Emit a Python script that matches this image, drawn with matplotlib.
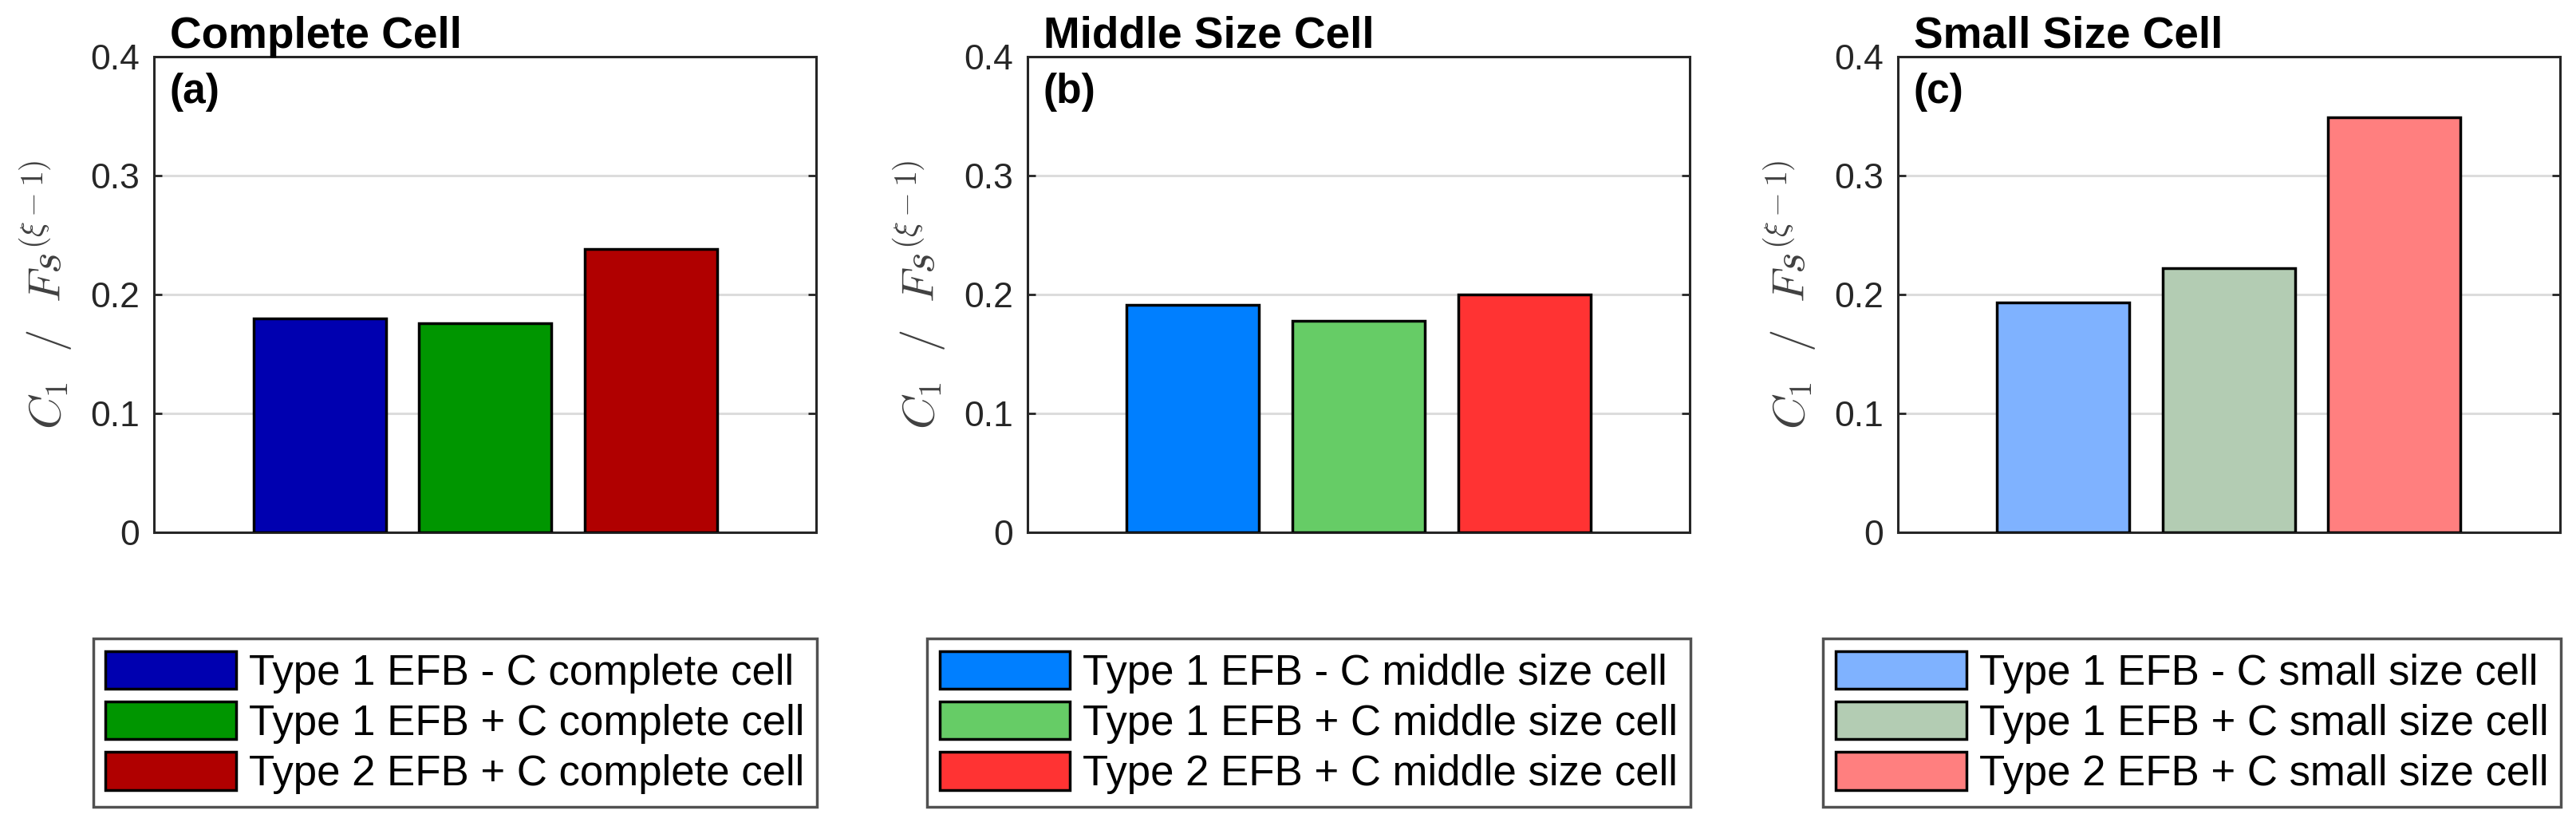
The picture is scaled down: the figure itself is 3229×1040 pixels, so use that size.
import matplotlib
matplotlib.use("Agg")
import matplotlib.pyplot as plt
from matplotlib.patches import Patch

plt.rcParams['font.family'] = ['Liberation Sans', 'DejaVu Sans']
plt.rcParams['mathtext.fontset'] = 'cm'

# ---- data ----
panel_titles = ["Complete Cell", "Middle Size Cell", "Small Size Cell"]
panel_tags = ["(a)", "(b)", "(c)"]
values_complete = [0.180, 0.176, 0.238]
values_middle = [0.191, 0.178, 0.200]
values_small = [0.193, 0.222, 0.349]
labels_complete = ["Type 1 EFB - C complete cell", "Type 1 EFB + C complete cell", "Type 2 EFB + C complete cell"]
labels_middle = ["Type 1 EFB - C middle size cell", "Type 1 EFB + C middle size cell", "Type 2 EFB + C middle size cell"]
labels_small = ["Type 1 EFB - C small size cell", "Type 1 EFB + C small size cell", "Type 2 EFB + C small size cell"]
colors_complete = ["#0000B0", "#009600", "#B00000"]
colors_middle = ["#007FFF", "#66CC66", "#FF3333"]
colors_small = ["#7FB2FF", "#B3CCB3", "#FF7F7F"]
yticks = [0, 0.1, 0.2, 0.3, 0.4]
ytick_labels = ["0", "0.1", "0.2", "0.3", "0.4"]
ylabel = r"$C_1\ \ /\ \ Fs^{(\xi-1)}$"

W, H = 3230, 1040
fig = plt.figure(figsize=(W / 100, H / 100), dpi=100)

lefts = [193, 1288, 2379]
ax_w, ax_top, ax_bot = 830, 71, 667
leg_top = 800

all_vals = [values_complete, values_middle, values_small]
all_labels = [labels_complete, labels_middle, labels_small]
all_cols = [colors_complete, colors_middle, colors_small]

for i in range(3):
    ax = fig.add_axes([lefts[i] / W, 1 - ax_bot / H, ax_w / W, (ax_bot - ax_top) / H])
    x = [1, 2, 3]
    ax.bar(x, all_vals[i], width=0.8, color=all_cols[i], edgecolor='black', linewidth=2.5, zorder=3)
    ax.set_xlim(0, 4)
    ax.set_ylim(0, 0.4)
    ax.set_xticks([])
    ax.set_yticks(yticks)
    ax.set_yticklabels(ytick_labels)
    ax.yaxis.grid(True, color='#dcdcdc', linewidth=2.2, zorder=0)
    ax.set_axisbelow(True)
    ax.tick_params(axis='y', direction='in', length=7, width=2, left=True, right=True,
                   labelsize=32, labelcolor='#262626', color='#262626', pad=13)
    for s in ax.spines.values():
        s.set_color('#262626')
        s.set_linewidth(2.2)
    ax.set_ylabel(ylabel, fontsize=41, color='#404040')
    ax.yaxis.set_label_coords(-100 / ax_w, 0.5)
    ax.text(20 / ax_w, 1 - 44 / (ax_bot - ax_top), panel_tags[i], transform=ax.transAxes,
            fontsize=37, fontweight='bold', va='center', ha='left')
    ax.text(20 / ax_w, 1 + 11 / (ax_bot - ax_top), panel_titles[i], transform=ax.transAxes,
            fontsize=39.5, fontweight='bold', va='baseline', ha='left')
    handles = [Patch(facecolor=c, edgecolor='black', linewidth=2.5) for c in all_cols[i]]
    leg = ax.legend(handles, all_labels[i], loc='upper right',
                    bbox_to_anchor=((lefts[i] + ax_w + 1) / W, 1 - leg_top / H),
                    bbox_transform=fig.transFigure, borderaxespad=0,
                    fontsize=38, frameon=True, fancybox=False,
                    handlelength=3.1, handleheight=1.0, handletextpad=0.3,
                    labelspacing=0.2, borderpad=0.3)
    fr = leg.get_frame()
    fr.set_edgecolor('#262626')
    fr.set_linewidth(2.5)

fig.savefig("out.png", dpi=100, facecolor='white')
